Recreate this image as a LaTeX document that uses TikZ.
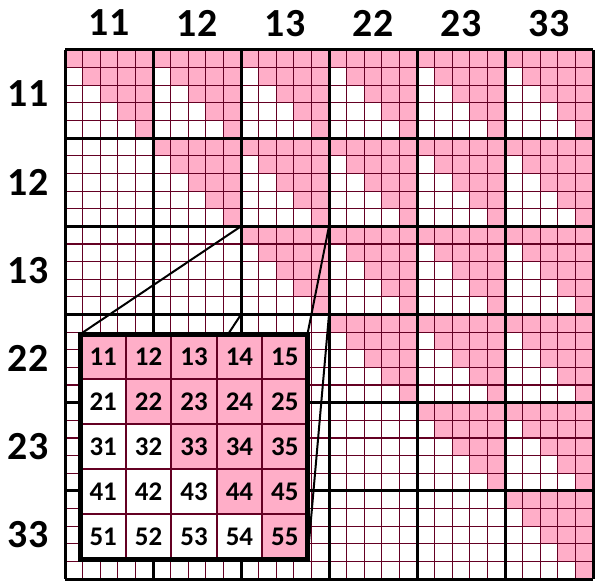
\documentclass[tikz,border=0pt]{standalone}
\usepackage{fontspec}
\setmainfont{Carlito}
\definecolor{pk}{RGB}{255,174,200}
\definecolor{ln}{RGB}{100,0,35}
\tikzset{
  biglab/.style={font=\fontsize{40}{44}\selectfont\bfseries, inner sep=0pt, text depth=0pt},
  celllab/.style={font=\fontsize{27}{30}\selectfont\bfseries, inner sep=0pt, text depth=0pt},
  thin grid/.style={draw=ln, line width=1.1bp},
  thick grid/.style={draw=black, line width=3bp},
  zoomline/.style={draw=black, line width=2bp},
  inset line/.style={draw=ln, line width=2bp},
  inset border/.style={draw=black, line width=5bp}
}
\begin{document}
\begin{tikzpicture}[x=1bp,y=-1bp]
\useasboundingbox (0,0) rectangle (600,586);
\fill[white] (0,0) rectangle (600,586);
% pink cells (upper triangle within upper blocks)
\foreach \I in {0,...,5}{
  \foreach \J in {\I,...,5}{
    \foreach \r in {0,...,4}{
      \foreach \c in {\r,...,4}{
        \fill[pk] ({65+\J*88+\c*17.6},{50+\I*88.17+\r*17.634}) rectangle ++(17.6,17.634);
      }
    }
  }
}
% thin cell lines
\foreach \k in {0,...,30}{
  \draw[thin grid] ({65+\k*17.6},50) -- ({65+\k*17.6},579);
  \draw[thin grid] (65,{50+\k*17.634}) -- (593,{50+\k*17.634});
}
% thick block lines
\foreach \k in {0,...,6}{
  \draw[thick grid] ({65+\k*88},50) -- ({65+\k*88},579);
  \draw[thick grid] (65,{50+\k*88.17}) -- (593,{50+\k*88.17});
}
% labels
\foreach \t [count=\i from 0] in {11,12,13,22,23,33}{
  \node[biglab] (col\t) at ({109+\i*88},23) {\t};
  \node[biglab] (row\t) at (28,{94+\i*88.17}) {\t};
}
% zoomed block corners and inset corners
\coordinate (bTL) at (241,226.3);
\coordinate (bTR) at (329,226.3);
\coordinate (bBL) at (241,314.5);
\coordinate (bBR) at (329,314.5);
\coordinate (iTL) at (80.5,334);
\coordinate (iTR) at (307.5,334);
\coordinate (iBL) at (80.5,559);
\coordinate (iBR) at (307.5,559);
\draw[zoomline] (bTL) -- (iTL);
\draw[zoomline] (bTR) -- (iTR);
\draw[zoomline] (bBL) -- (iBL);
\draw[zoomline] (bBR) -- (iBR);
% inset
\fill[white] (iTL) rectangle (iBR);
\foreach \r in {1,...,5}{
  \foreach \c in {1,...,5}{
    \ifnum\c<\r\relax\else
      \fill[pk] ({80.5+(\c-1)*45.4},{334+(\r-1)*45}) rectangle ++(45.4,45);
    \fi
    \node[celllab] (cell\r\c) at ({80.5+(\c-0.5)*45.4},{334+(\r-0.5)*45}) {\r\c};
  }
}
\foreach \k in {1,...,4}{
  \draw[inset line] ({80.5+\k*45.4},334) -- ({80.5+\k*45.4},559);
  \draw[inset line] (80.5,{334+\k*45}) -- (307.5,{334+\k*45});
}
\draw[inset border] (iTL) rectangle (iBR);
\end{tikzpicture}
\end{document}
